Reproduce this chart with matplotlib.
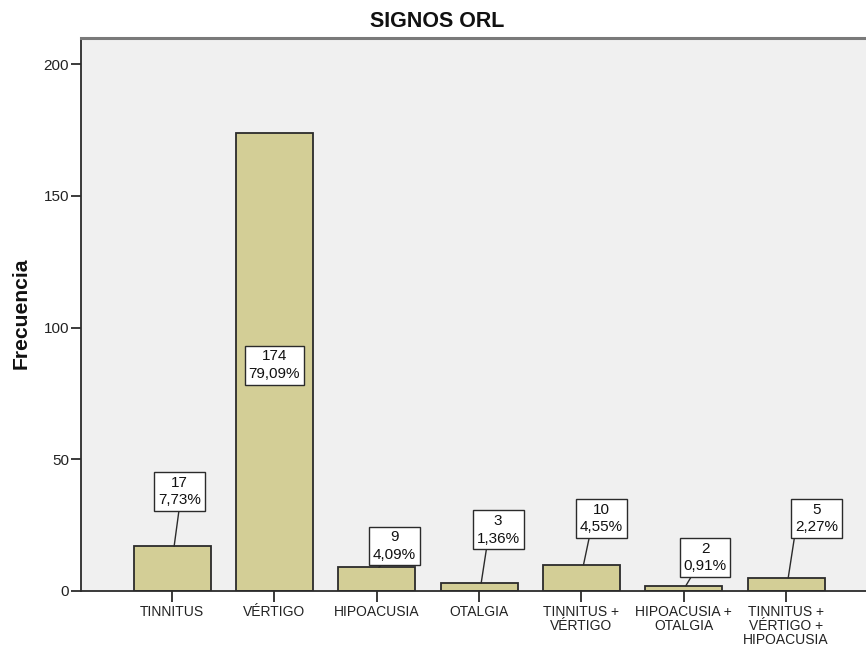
import matplotlib
matplotlib.use("Agg")
import matplotlib.pyplot as plt

plt.rcParams["font.family"] = ["Liberation Sans", "DejaVu Sans"]

# frequencies of ENT signs
categories = ["TINNITUS", "VÉRTIGO", "HIPOACUSIA", "OTALGIA",
              "TINNITUS +\nVÉRTIGO", "HIPOACUSIA +\nOTALGIA",
              "TINNITUS +\nVÉRTIGO +\nHIPOACUSIA"]
counts = [17, 174, 9, 3, 10, 2, 5]
y_ticks = [0, 50, 100, 150, 200]

# where each value box sits (x offset from bar centre, height in data units)
box_dx = [0.072, 0.0, 0.172, 0.186, 0.197, 0.208, 0.296]
box_y = [37.9, 85.8, 17.1, 23.2, 27.6, 12.8, 27.6]
# where the leader leaves the bottom of its box (fraction of box width)
leader_rel = [0.5, 0.5, 0.3, 0.24, 0.23, 0.23, 0.0]

W, H = 866, 648
fig = plt.figure(figsize=(W / 100, H / 100), dpi=100)
fig.patch.set_facecolor("white")
ax = fig.add_axes([81 / W, (H - 591) / H, 1 - 81 / W, (591 - 38) / H])
ax.set_facecolor("#f0f0f0")

x = list(range(len(counts)))
ax.bar(x, counts, width=0.753, color="#d3ce96", edgecolor="#2b2b2b",
       linewidth=1.3, zorder=2)

ax.set_xlim(-0.89, len(counts) - 1 + 0.78)
ax.set_ylim(0, 210)
ax.set_yticks(y_ticks)
ax.set_yticklabels([str(t) for t in y_ticks], fontsize=11, color="#222222")
ax.set_xticks(x)
ax.set_xticklabels(categories, fontsize=10, color="#222222", linespacing=1.0)
ax.tick_params(axis="y", length=7, width=1.3, pad=1.5, color="#2b2b2b")
ax.tick_params(axis="x", length=8, width=1.3, pad=2.0, color="#2b2b2b")

for side in ("left", "bottom"):
    ax.spines[side].set_color("#2b2b2b")
    ax.spines[side].set_linewidth(1.3)
ax.spines["top"].set_color("#7a7a7a")
ax.spines["top"].set_linewidth(2.2)
ax.spines["right"].set_visible(False)

total = sum(counts)
for i, v in enumerate(counts):
    pct = f"{100 * v / total:.2f}".replace(".", ",")
    label = f"{v}\n{pct}%"
    props = None
    if box_y[i] > v:
        props = dict(arrowstyle="-", color="#2b2b2b", lw=1.0,
                     shrinkA=0, shrinkB=0, relpos=(leader_rel[i], 0.0))
    ax.annotate(label, xy=(i + 0.02, v), xytext=(i + box_dx[i], box_y[i]),
                ha="center", va="center", fontsize=11, linespacing=1.3,
                color="#111111", zorder=4,
                bbox=dict(boxstyle="square,pad=0.25", fc="white",
                          ec="#2b2b2b", lw=1.0),
                arrowprops=props)

fig.text(436.7 / W, 1 - 26.7 / H, "SIGNOS ORL", ha="center", va="baseline",
         fontsize=15.5, fontweight="bold", color="#111111")
fig.text(26.7 / W, 1 - 313.4 / H, "Frecuencia", rotation=90,
         rotation_mode="anchor", ha="center", va="baseline",
         fontsize=15.2, fontweight="bold", color="#111111")

fig.savefig("out.png", dpi=100, facecolor="white")
